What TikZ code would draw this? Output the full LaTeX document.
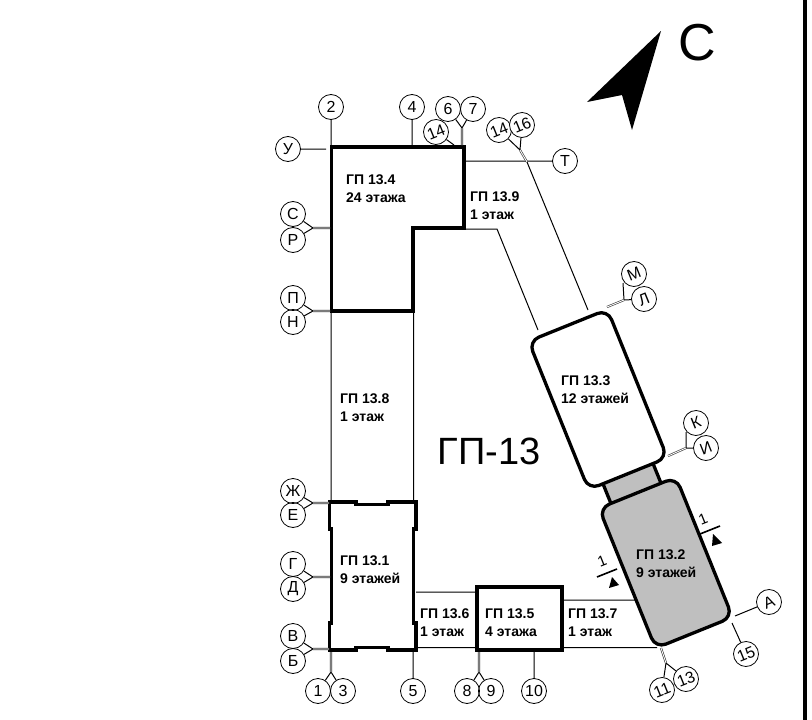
\documentclass[tikz,border=0pt]{standalone}
\usepackage{fontspec}
\setmainfont{Liberation Sans}
\tikzset{
  bub/.style={draw,circle,line width=.8pt,minimum size=25pt,inner sep=0pt,font=\fontsize{16}{16}\selectfont},
  bubr/.style={bub,rotate=22},
  lbl/.style={anchor=west,align=left,inner sep=0pt,font=\fontsize{14}{18}\selectfont\bfseries},
  thin line/.style={line width=1pt},
  twin/.style={double,line width=.6pt,double distance=.9pt,draw=black!80},
  wall/.style={line width=3.3pt,line join=miter},
  corp/.style={draw,line width=3.3pt,rounded corners=11pt,rotate=22,inner sep=0pt},
}
\begin{document}
\begin{tikzpicture}[x=1pt,y=-1pt]
\useasboundingbox (0,0) rectangle (812,720);
\fill (803,0) rectangle (807,720);
% buildings
\node[corp,fill=black!25,minimum width=54pt,minimum height=50pt] (link) at (633,486) {};
\node[corp,fill=white,minimum width=85pt,minimum height=160pt] (gp3) at (598,399.5) {};
\node[corp,fill=black!25,minimum width=83pt,minimum height=151pt] (gp2) at (665.8,562.7) {};
\draw[wall] (331.5,147) -- (464,147) -- (464,228) -- (413,228) -- (413,311) -- (331.5,311) -- cycle;
\draw[wall] (329.5,502) -- (356,502) -- (356,504.7) -- (388,504.7) -- (388,502) -- (416,502) -- (416,529)
            -- (413.5,529) -- (413.5,623) -- (416,623) -- (416,650) -- (388,650) -- (388,647.5)
            -- (356,647.5) -- (356,650) -- (329.5,650) -- (329.5,623) -- (331.5,623) -- (331.5,529)
            -- (329.5,529) -- cycle;
\node[draw,line width=3.3pt,minimum width=85pt,minimum height=63pt,inner sep=0pt] (gp5) at (519.5,618.5) {};
% free ends
\path (331,147)coordinate(t2) (412,147)coordinate(t4) (326,149)coordinate(tU) (462,145)coordinate(t67)
      (454,145)coordinate(t14) (527,162)coordinate(t1416) (552,161)coordinate(rT)
      (462,128)coordinate(j67) (520,150)coordinate(j1416)
      (313,228)coordinate(jSR) (330,228)coordinate(eSR) (313,311)coordinate(jPN) (330,311)coordinate(ePN)
      (313,503)coordinate(jZE) (329,503)coordinate(eZE) (313,577)coordinate(jGD) (330,577)coordinate(eGD)
      (313,649)coordinate(jVB) (329,649)coordinate(eVB)
      (331,672)coordinate(j13) (331,652)coordinate(e13) (479,672)coordinate(j89) (479,652)coordinate(e89)
      (413,652)coordinate(e5) (534,652)coordinate(e10)
      (624,300)coordinate(jML) (607,307)coordinate(eML) (686,448)coordinate(jKI) (668,456)coordinate(eKI)
      (666,663)coordinate(j1113) (661,648)coordinate(e1113) (735,616)coordinate(eA) (732,623)coordinate(e15)
      (623,283)coordinate(lM) (686,432)coordinate(lK);
% axis marks
\draw (331,107)node[bub](b2){2} (412,107)node[bub](b4){4} (448,109)node[bub](b6){6} (473,109)node[bub](b7){7}
      (436,132)node[bub,fill=white,rotate=22](b14){14} (499,130)node[bubr](c14){14} (522,125)node[bubr,fill=white](b16){16}
      (288,149)node[bub](bU){У} (565,161)node[bub](bT){Т}
      (293,214)node[bub](bS){С} (293,240)node[bub](bR){Р} (293,298)node[bub](bP){П} (293,322)node[bub](bN){Н}
      (293,491)node[bub](bZ){Ж} (293,515)node[bub](bE){Е} (293,564)node[bub](bG){Г} (293,589)node[bub](bD){Д}
      (293,636)node[bub](bV){В} (293,661)node[bub](bB){Б}
      (318,691)node[bub](b1){1} (343,691)node[bub](b3){3} (413,691)node[bub](b5){5}
      (467,691)node[bub](b8){8} (491,691)node[bub](b9){9} (534,691)node[bub](b10){10}
      (634,274)node[bubr](bM){М} (644,299)node[bubr](bL){Л} (696,423)node[bubr](bK){К} (706,448)node[bubr](bI){И}
      (769,602)node[bubr](bA){А} (746,654)node[bubr](b15){15} (686,679)node[bubr](b13){13} (662,690)node[bubr](b11){11};
% thin walls
\draw[thin line] (331,311) -- (331,502)  (413.5,311) -- (413.5,502)
      (464,161) -- (rT) -- (bT)  (464,229) -- (497,229) -- (538,330)  (t1416) -- (588,310)
      (416,592) -- (477,592)  (416,647.5) -- (477,647.5)  (562,600) -- (635,600)  (562,647.5) -- (657,647.5);
% leaders
\draw[thin line] (b2) -- (t2)  (b4) -- (t4)  (bU) -- (tU)  (b6) -- (j67) -- (b7)  (b14) -- (t14)
      (c14) -- (j1416) -- (b16)  (bS) -- (jSR) -- (bR)  (bP) -- (jPN) -- (bN)
      (bZ) -- (jZE) -- (bE)  (bG) -- (jGD) -- (bD)  (bV) -- (jVB) -- (bB)
      (b1) -- (j13) -- (b3)  (b8) -- (j89) -- (b9)  (b5) -- (e5)  (b10) -- (e10)
      (lM) -- (jML) -- (bL)  (lK) -- (jKI) -- (bI)  (b11) -- (j1113) -- (b13)  (bA) -- (eA)  (b15) -- (e15);
\draw[twin] (j67) -- (t67)  (j1416) -- (t1416)  (jSR) -- (eSR)  (jPN) -- (ePN)  (jZE) -- (eZE)  (jGD) -- (eGD)
      (jVB) -- (eVB)  (j13) -- (e13)  (j89) -- (e89)  (jML) -- (eML)  (jKI) -- (eKI)  (j1113) -- (e1113);
% section marks
\draw[line width=1.6pt] (700,534) -- (720,526)  (597,577) -- (617,569);
\fill (712,546) -- (722,543) -- (713,534) -- cycle  (609,588) -- (619,585) -- (612,577) -- cycle;
\draw (703,519)node[rotate=22,inner sep=0pt,font=\fontsize{15}{15}\selectfont](s1){1}
      (602,561)node[rotate=22,inner sep=0pt,font=\fontsize{15}{15}\selectfont](s2){1};
% names
\draw (346,189)node[lbl](n4){ГП 13.4\\24 этажа} (470,205.5)node[lbl](n9){ГП 13.9\\1 этаж}
      (340,408)node[lbl](n8){ГП 13.8\\1 этаж} (340,570)node[lbl](n1){ГП 13.1\\9 этажей}
      (420,623)node[lbl](n6){ГП 13.6\\1 этаж} (485,623)node[lbl](n5){ГП 13.5\\4 этажа}
      (568,623)node[lbl](n7){ГП 13.7\\1 этаж} (561,390)node[lbl](n3){ГП 13.3\\12 этажей}
      (636,564)node[lbl](n2){ГП 13.2\\9 этажей};
\node[inner sep=0pt,font=\fontsize{38}{38}\selectfont] (site) at (489,451) {ГП-13};
% north arrow
\fill (661,31) -- (587,102) -- (622,95) -- (632,130) -- cycle;
\node[inner sep=0pt,font=\fontsize{52}{52}\selectfont] (north) at (697,43) {С};
\end{tikzpicture}
\end{document}
